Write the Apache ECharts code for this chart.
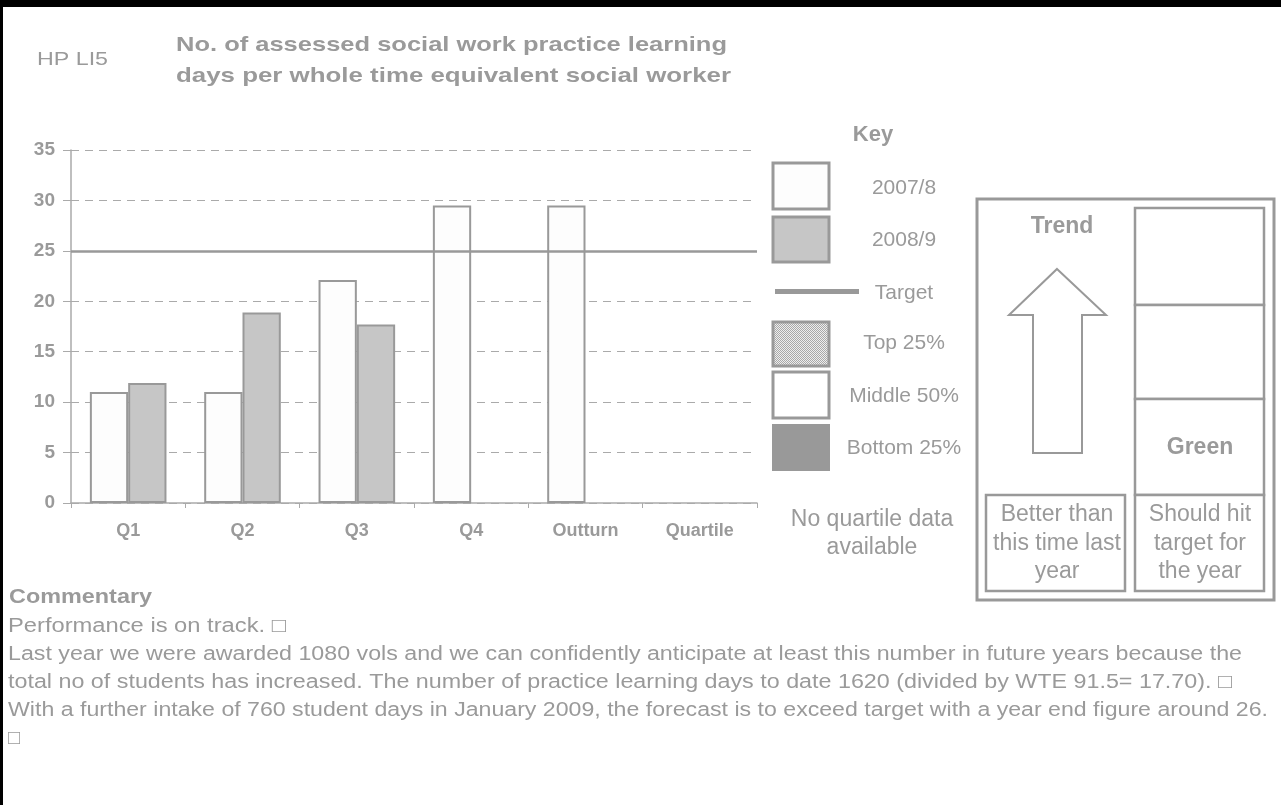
<!DOCTYPE html>
<html>
<head>
<meta charset="utf-8">
<script src="https://cdn.jsdelivr.net/npm/echarts@6/dist/echarts.min.js"></script>
<style>
html,body{margin:0;padding:0;background:#fff;}
#chart{width:1281px;height:805px;}
</style>
</head>
<body>
<div id="chart"></div>
<script>
// ---- data ----
const categories = ['Q1', 'Q2', 'Q3', 'Q4', 'Outturn', 'Quartile'];
const series2007 = [11.0, 11.0, 22.1, 29.5, 29.5, null];
const series2008 = [11.9, 18.9, 17.7, null, null, null];
const targetValue = 25;
const yTicks = { min: 0, max: 35, interval: 5 };
const keyLabels = ['2007/8', '2008/9', 'Target', 'Top 25%', 'Middle 50%', 'Bottom 25%'];
const titleLines = ['No. of assessed social work practice learning', 'days per whole time equivalent social worker'];
const commentaryLines = [
  'Performance is on track. \u25A1',
  'Last year we were awarded 1080 vols and we can confidently anticipate at least this number in future years because the',
  'total no of students has increased. The number of practice learning days to date 1620 (divided by WTE 91.5= 17.70). \u25A1',
  'With a further intake of 760 student days in January 2009, the forecast is to exceed target with a year end figure around 26.',
  '\u25A1'
];

const GRAY = '#999999';
const TXT = '#9a9a9a';
const FONT = '"Liberation Sans", Arial, sans-serif';

const mc = document.createElement('canvas').getContext('2d');
function fontStr(size, bold) { return (bold ? 'bold ' : '') + size + 'px ' + FONT; }

// dotted pattern for Top 25%
const pc = document.createElement('canvas');
pc.width = 2; pc.height = 2;
const pctx = pc.getContext('2d');
pctx.fillStyle = '#eeeeee'; pctx.fillRect(0, 0, 2, 2);
pctx.fillStyle = '#a8a8a8'; pctx.fillRect(0, 0, 1, 1); pctx.fillRect(1, 1, 1, 1);

function txt(text, x, y, size, bold, align, width, color) {
  let sx = 1;
  if (width) {
    mc.font = fontStr(size, bold);
    sx = width / mc.measureText(text).width;
  }
  return {
    type: 'text', silent: true, x: x, y: y, scaleX: sx,
    style: {
      text: text, x: 0, y: 0,
      font: fontStr(size, bold),
      fill: color || TXT,
      textAlign: align || 'left', textVerticalAlign: 'middle'
    }
  };
}
function box(x, y, w, h, fill, lw) {
  return {
    type: 'rect', silent: true,
    shape: { x: x, y: y, width: w, height: h },
    style: { fill: fill, stroke: GRAY, lineWidth: lw || 3 }
  };
}

const graphics = [];
// page borders
graphics.push({ type: 'rect', shape: { x: 0, y: 0, width: 1281, height: 7 }, style: { fill: '#000' } });
graphics.push({ type: 'rect', shape: { x: 0, y: 0, width: 3, height: 805 }, style: { fill: '#000' } });
// titles
graphics.push(txt('HP LI5', 37, 60, 19, false, 'left', 71));
graphics.push(txt(titleLines[0], 176, 45, 21, true, 'left', 551));
graphics.push(txt(titleLines[1], 176, 76, 21, true, 'left', 555));
// key
graphics.push(txt('Key', 873, 135, 22, true, 'center'));
graphics.push(box(773, 163, 56, 46, '#fdfdfd'));
graphics.push(box(773, 217, 56, 45, '#c6c6c6'));
graphics.push({ type: 'rect', silent: true, shape: { x: 775, y: 289, width: 84, height: 5 }, style: { fill: GRAY } });
graphics.push(box(773, 322, 56, 44, { image: pc, repeat: 'repeat' }));
graphics.push(box(773, 372, 56, 46, '#ffffff'));
graphics.push({ type: 'rect', silent: true, shape: { x: 772, y: 424, width: 58, height: 47 }, style: { fill: GRAY } });
const keyY = [188, 240, 293, 343, 396, 448];
keyLabels.forEach(function (l, i) { graphics.push(txt(l, 904, keyY[i], 21, false, 'center')); });
graphics.push(txt('No quartile data', 872, 520, 23, false, 'center'));
graphics.push(txt('available', 872, 548, 23, false, 'center'));
// trend panel
graphics.push(box(977, 199, 297, 401, '#ffffff'));
graphics.push(txt('Trend', 1062, 227, 23, true, 'center'));
graphics.push({
  type: 'polygon', silent: true,
  shape: { points: [[1057, 269], [1106, 315], [1082, 315], [1082, 453], [1033, 453], [1033, 315], [1009, 315]] },
  style: { fill: '#ffffff', stroke: GRAY, lineWidth: 2 }
});
graphics.push(box(1135, 208, 129, 97, '#ffffff', 2.5));
graphics.push(box(1135, 305, 129, 94, '#ffffff', 2.5));
graphics.push(box(1135, 399, 129, 96, '#ffffff', 2.5));
graphics.push(txt('Green', 1200, 448, 23, true, 'center'));
graphics.push(box(986, 495, 139, 96, '#ffffff', 2.5));
graphics.push(box(1135, 495, 129, 96, '#ffffff', 2.5));
['Better than', 'this time last', 'year'].forEach(function (l, i) { graphics.push(txt(l, 1057, 515 + i * 28.5, 23, false, 'center')); });
['Should hit', 'target for', 'the year'].forEach(function (l, i) { graphics.push(txt(l, 1200, 515 + i * 28.5, 23, false, 'center')); });
// commentary
graphics.push(txt('Commentary', 9, 597, 20, true, 'left', 143));
const comW = [278, 1234, 1224, 1260, null];
commentaryLines.forEach(function (l, i) { graphics.push(txt(l, 8, 626 + i * 28, 20, false, 'left', comW[i])); });

const chart = echarts.init(document.getElementById('chart'), null, { renderer: 'canvas' });
chart.setOption({
  animation: false,
  backgroundColor: '#ffffff',
  grid: { left: 71, right: 524, top: 150, bottom: 302, containLabel: false },
  xAxis: {
    type: 'category', data: categories,
    axisLine: { lineStyle: { color: '#aaaaaa', width: 1.5 } },
    axisTick: { show: true, interval: 0, length: 5, lineStyle: { color: '#aaaaaa' } },
    axisLabel: { color: TXT, fontWeight: 'bold', fontSize: 18, fontFamily: FONT, margin: 19, interval: 0 },
    splitLine: { show: false }
  },
  yAxis: {
    type: 'value', min: yTicks.min, max: yTicks.max, interval: yTicks.interval,
    axisLine: { show: true, lineStyle: { color: '#aaaaaa', width: 1.5 } },
    axisTick: { show: true, length: 8, lineStyle: { color: '#aaaaaa' } },
    axisLabel: { color: TXT, fontWeight: 'bold', fontSize: 19, fontFamily: FONT, margin: 16 },
    splitLine: { show: true, lineStyle: { color: '#aaaaaa', type: [8, 6], width: 1.2 } }
  },
  series: [
    {
      name: '2007/8', type: 'bar', data: series2007,
      barGap: '0%', barCategoryGap: '33%',
      itemStyle: { color: '#fdfdfd', borderColor: GRAY, borderWidth: 2 }
    },
    {
      name: '2008/9', type: 'bar', data: series2008,
      itemStyle: { color: '#c6c6c6', borderColor: GRAY, borderWidth: 2 }
    },
    {
      name: 'Target', type: 'line', data: [], z: 10,
      markLine: {
        silent: true, symbol: ['none', 'none'], label: { show: false },
        lineStyle: { color: GRAY, type: 'solid', width: 2.5 },
        data: [{ yAxis: targetValue }]
      }
    }
  ],
  graphic: { elements: graphics }
});
</script>
</body>
</html>
